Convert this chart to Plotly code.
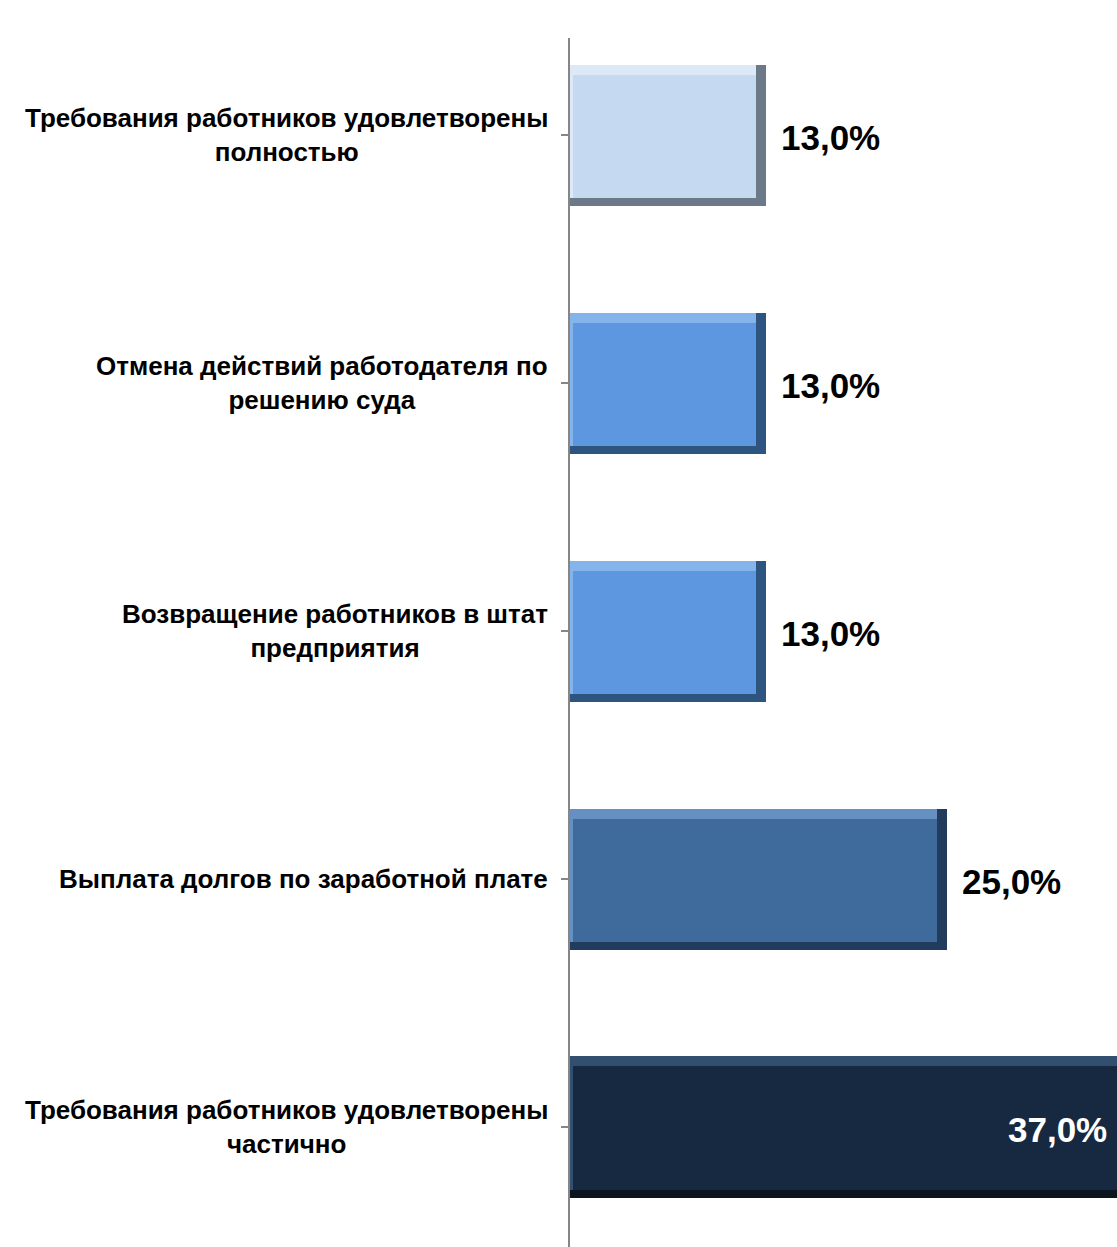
import plotly.graph_objects as go

categories = [
    "Требования работников удовлетворены<br>полностью",
    "Отмена действий работодателя по<br>решению суда",
    "Возвращение работников в штат<br>предприятия",
    "Выплата долгов по заработной плате",
    "Требования работников удовлетворены<br>частично",
]
values = [13.0, 13.0, 13.0, 25.0, 37.0]
value_labels = ["13,0%", "13,0%", "13,0%", "25,0%", "37,0%"]

face_colors = ["#C5D9F1", "#5C97DF", "#5C97DF", "#3E6A9C", "#162940"]
light_colors = ["#DDE9F7", "#85B4EA", "#85B4EA", "#6690C2", "#334F70"]
dark_colors = ["#6B7988", "#2E5480", "#2E5480", "#213C5C", "#0B1520"]
label_colors = ["black", "black", "black", "black", "white"]

pos = list(range(len(categories)))
XMAX = 36.27
BW = 0.569
PX_X = 15.08   # px per x unit
PX_Y = 247.9   # px per y unit

fig = go.Figure()
# shadow (bottom / right bevel)
fig.add_trace(go.Bar(orientation="h", y=pos, x=values, width=BW, offset=-BW / 2,
                     marker=dict(color=dark_colors, line=dict(width=0)), hoverinfo="skip"))
# highlight (top / left bevel)
fig.add_trace(go.Bar(orientation="h", y=pos, x=[v - 10 / PX_X for v in values],
                     width=BW - 8 / PX_Y, offset=-BW / 2,
                     marker=dict(color=light_colors, line=dict(width=0)), hoverinfo="skip"))
# face
fig.add_trace(go.Bar(orientation="h", y=pos, x=[v - 13 / PX_X for v in values],
                     base=[3 / PX_X] * len(values),
                     width=BW - 18 / PX_Y, offset=-BW / 2 + 10 / PX_Y,
                     marker=dict(color=face_colors, line=dict(width=0)), hoverinfo="skip"))

FONT = "Liberation Sans, Arial, sans-serif"

for p, c in zip(pos, categories):
    fig.add_annotation(x=0, xref="paper", y=p, yref="y", text=c, showarrow=False,
                       xanchor="right", yanchor="middle", xshift=-20, align="center",
                       font=dict(family=FONT, size=26, color="black", weight="bold"))

for p, v, t, col in zip(pos, values, value_labels, label_colors):
    if v <= XMAX - 6:
        fig.add_annotation(x=v, y=p, text=t, showarrow=False, xanchor="left",
                           yanchor="middle", xshift=13, yshift=-2,
                           font=dict(family=FONT, size=35, color=col, weight="bold"))
    else:
        fig.add_annotation(x=min(v, XMAX), y=p, text=t, showarrow=False, xanchor="right",
                           yanchor="middle", xshift=-8, yshift=-2,
                           font=dict(family=FONT, size=35, color=col, weight="bold"))

fig.update_layout(
    width=1117, height=1247,
    margin=dict(l=570, r=0, t=38, b=0),
    paper_bgcolor="white", plot_bgcolor="white",
    barmode="overlay", showlegend=False, bargap=0,
    xaxis=dict(range=[0, XMAX], visible=False, fixedrange=True),
    yaxis=dict(range=[4.484, -0.393], tickvals=pos, showticklabels=False,
               ticks="outside", ticklen=7, tickcolor="#868686", tickwidth=1.5,
               showline=True, linecolor="#868686", linewidth=1.5,
               showgrid=False, zeroline=False),
)

fig.write_html("out.html", config={"displayModeBar": False},
               post_script="document.body.style.margin='0';document.body.style.overflow='hidden';")
